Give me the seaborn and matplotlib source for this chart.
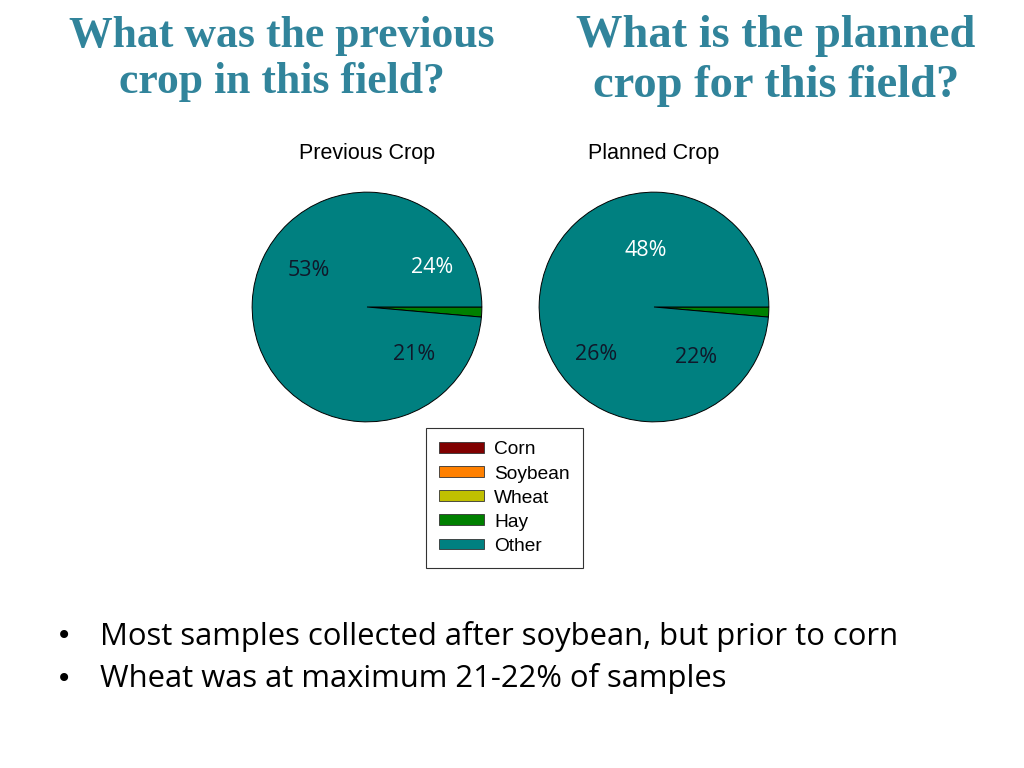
import matplotlib.pyplot as plt
import seaborn as sns
from matplotlib.patches import Patch

# Data
crops = ["Corn", "Soybean", "Wheat", "Hay", "Other"]
crop_colors = ["#800000", "#FF8000", "#C0C000", "#008000", "#008080"]

# wedge shares as drawn on the slide (only Hay and Other are visible)
previous_shares = [0, 0, 0, 1.4, 98.6]
planned_shares = [0, 0, 0, 1.4, 98.6]

# percentage labels printed on the pies
previous_labels = ["53%", "24%", "21%"]
planned_labels = ["48%", "26%", "22%"]
previous_label_colors = ["#10182a", "white", "#10182a"]
planned_label_colors = ["white", "#10182a", "#10182a"]

sns.set_theme(style="white")
plt.rcParams["font.family"] = ["Liberation Sans", "DejaVu Sans"]
plt.rcParams["text.color"] = "black"

fig = plt.figure(figsize=(10.24, 7.68), dpi=100)
W, H = 1024, 768

# label offsets in pie-radius units (placement only)
prev_pos = [(-0.51, 0.32), (0.57, 0.34), (0.41, -0.41)]
plan_pos = [(-0.07, 0.49), (-0.50, -0.41), (0.37, -0.44)]


def draw_pie(cx, cy, r, shares, labels, label_colors, pos, title):
    ax = fig.add_axes([(cx - r) / W, (H - cy - r) / H, 2 * r / W, 2 * r / H])
    vals = [v for v in shares if v > 0]
    cols = [c for v, c in zip(shares, crop_colors) if v > 0]
    ax.pie(vals, colors=cols, startangle=0, counterclock=False, radius=1,
           wedgeprops={"edgecolor": "black", "linewidth": 0.7})
    for lab, col, (dx, dy) in zip(labels, label_colors, pos):
        ax.text(dx, dy, lab, ha="center", va="center", fontsize=15.5,
                color=col, family=["Open Sans", "DejaVu Sans"])
    ax.set_xlim(-1.01, 1.01)
    ax.set_ylim(-1.01, 1.01)
    ax.set_aspect("equal")
    ax.axis("off")
    fig.text(cx / W, 1 - 154 / H, title, ha="center", va="center",
             fontsize=15.5, color="black")


draw_pie(367, 307, 116, previous_shares, previous_labels, previous_label_colors,
         prev_pos, "Previous Crop")
draw_pie(654, 307, 116, planned_shares, planned_labels, planned_label_colors,
         plan_pos, "Planned Crop")

# shared legend
handles = [Patch(facecolor=c, edgecolor="#333333", linewidth=0.6, label=n)
           for n, c in zip(crops, crop_colors)]
leg = fig.legend(handles=handles, loc="upper left",
                 bbox_to_anchor=(426 / W, 1 - 428 / H), frameon=True,
                 fancybox=False, fontsize=13.8, handlelength=2.3,
                 handleheight=0.5, labelspacing=0.37, borderpad=0.7,
                 handletextpad=0.55, borderaxespad=0)
leg.get_frame().set_edgecolor("black")
leg.get_frame().set_linewidth(0.8)
for t in leg.get_texts():
    t.set_color("black")

# slide titles
title_col = "#31849B"
serif = ["Liberation Serif", "DejaVu Serif"]
fig.text(282 / W, 1 - 59 / H, "What was the previous\ncrop in this field?",
         ha="center", va="center", fontsize=31.5, fontweight="bold",
         color=title_col, family=serif, linespacing=1.2)
fig.text(776 / W, 1 - 61 / H, "What is the planned\ncrop for this field?",
         ha="center", va="center", fontsize=33.5, fontweight="bold",
         color=title_col, family=serif, linespacing=1.26)

# bullets
bullets = ["Most samples collected after soybean, but prior to corn",
           "Wheat was at maximum 21-22% of samples"]
for i, b in enumerate(bullets):
    y = 1 - (636 + 43 * i) / H
    fig.text(64 / W, y, "\u2022", ha="center", va="center", fontsize=20,
             color="black", family=["DejaVu Sans"])
    fig.text(100 / W, y, b, ha="left", va="center", fontsize=22.3,
             color="black", family=["Open Sans", "DejaVu Sans"])

fig.savefig("out.png", dpi=100)
